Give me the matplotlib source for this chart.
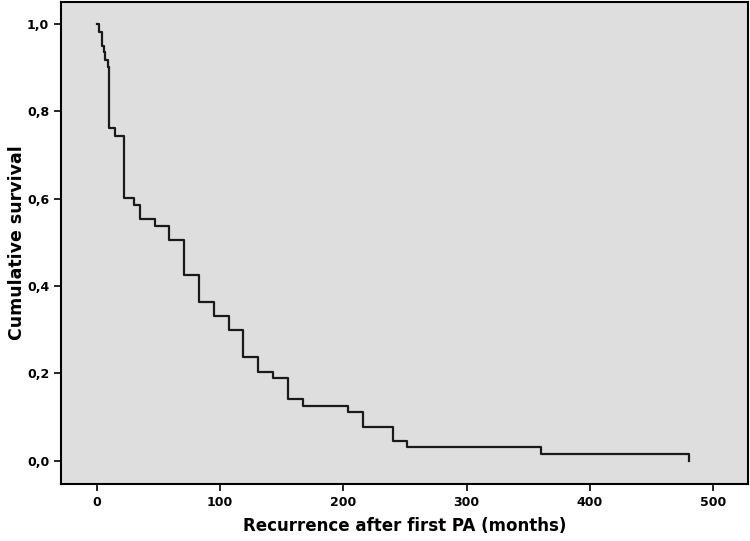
import matplotlib
matplotlib.use("Agg")
import matplotlib.pyplot as plt
from matplotlib.ticker import FuncFormatter

# Kaplan-Meier steps (months, survival after the step)
times = [0, 2, 4, 6, 7, 9, 10, 15, 22, 30, 35, 47, 59, 71, 83, 95, 107,
         119, 131, 143, 155, 167, 204, 216, 240, 252, 360, 480]
survival = [1.0, 0.981, 0.950, 0.935, 0.918, 0.902, 0.762, 0.744, 0.602,
            0.586, 0.553, 0.538, 0.506, 0.426, 0.363, 0.332, 0.300, 0.237,
            0.204, 0.189, 0.141, 0.126, 0.111, 0.077, 0.046, 0.031, 0.015, 0.0]
x_ticks = [0, 100, 200, 300, 400, 500]
y_ticks = [0.0, 0.2, 0.4, 0.6, 0.8, 1.0]

fig = plt.figure(figsize=(7.5, 5.41), dpi=100)
ax = fig.add_axes([0.0813, 0.1054, 0.9157, 0.891])
ax.set_facecolor("#dedede")

ax.step(times, survival, where="post", color="#1a1a1a", lw=1.6)

ax.set_xlim(-29, 528)
ax.set_ylim(-0.053, 1.05)
ax.set_xticks(x_ticks)
ax.set_yticks(y_ticks)
ax.yaxis.set_major_formatter(FuncFormatter(lambda v, p: f"{v:.1f}".replace(".", ",")))

for s in ax.spines.values():
    s.set_linewidth(1.5)
    s.set_color("black")
ax.tick_params(direction="out", length=5, width=1.2, labelsize=9)
for lab in ax.get_xticklabels() + ax.get_yticklabels():
    lab.set_fontweight("bold")

ax.set_xlabel("Recurrence after first PA (months)", fontsize=12, fontweight="bold", labelpad=6)
ax.set_ylabel("Cumulative survival", fontsize=12.5, fontweight="bold", labelpad=1)

fig.savefig("out.png", dpi=100)
